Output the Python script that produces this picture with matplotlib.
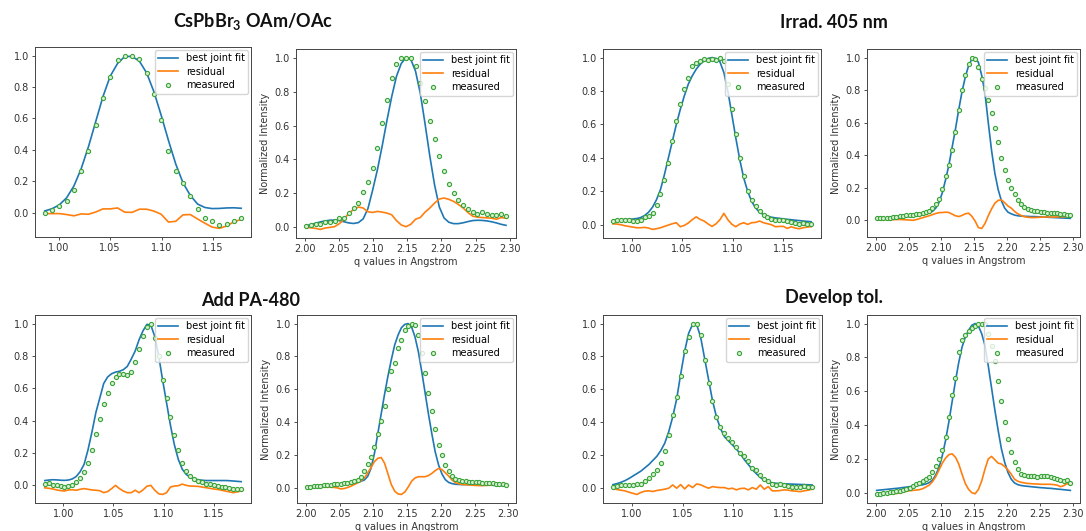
import numpy as np
import matplotlib
matplotlib.use("Agg")
import matplotlib.pyplot as plt

# ---------------------------------------------------------------------------
# Diffraction peak fits: (100)-type peak near 1.07 1/A and (200)-type near 2.15 1/A
# for four sample conditions.  Each panel: best joint fit, residual, measured.
# ---------------------------------------------------------------------------

sample_titles = ["CsPbBr$_\\mathregular{3}$ OAm/OAc", "Irrad. 405 nm", "Add PA-480", "Develop tol."]
legend_labels = ["best joint fit", "residual", "measured"]
x_label = "q values in Angstrom"
y_label = "Normalized Intensity"

# ---- CsPbBr3 OAm/OAc ------------------------------------------------------
q_oam_low = np.linspace(0.9865, 1.1775, 28)
fit_oam_low = [0.011, 0.025, 0.05, 0.095, 0.17, 0.28, 0.42, 0.58, 0.74, 0.87,
               0.95, 0.995, 0.995, 0.965, 0.89, 0.77, 0.62, 0.46, 0.31, 0.19,
               0.11, 0.055, 0.033, 0.026, 0.027, 0.03, 0.031, 0.028]
res_oam_low = [-0.006, -0.006, -0.006, -0.012, -0.02, -0.008, -0.01, 0.004, 0.024, 0.024,
               0.03, 0.003, 0.002, 0.022, 0.022, 0.01, -0.01, -0.06, -0.055, -0.014,
               -0.012, -0.04, -0.067, -0.092, -0.1, -0.085, -0.058, -0.043]
meas_oam_low = [-0.005, 0.015, 0.04, 0.075, 0.147, 0.266, 0.394, 0.556, 0.73, 0.866,
                0.972, 1.0, 1.0, 0.978, 0.89, 0.755, 0.59, 0.394, 0.264, 0.188,
                0.106, 0.024, -0.032, -0.056, -0.076, -0.071, -0.05, -0.032]

q_oam_high = np.linspace(2.0015, 2.2947, 43)
fit_oam_high = [0.01, 0.016, 0.024, 0.032, 0.038, 0.042, 0.043, 0.04, 0.033, 0.026,
                0.023, 0.028, 0.05, 0.11, 0.22, 0.34, 0.48, 0.63, 0.77, 0.89,
                0.965, 1.0, 0.99, 0.92, 0.79, 0.61, 0.42, 0.25, 0.12, 0.055,
                0.03, 0.022, 0.022, 0.027, 0.034, 0.04, 0.042, 0.041, 0.038, 0.033,
                0.026, 0.018, 0.012]
res_oam_high = [-0.002, -0.002, -0.006, -0.012, -0.004, 0.0, 0.004, 0.022, 0.046, 0.086,
                0.104, 0.12, 0.114, 0.092, 0.088, 0.094, 0.09, 0.084, 0.074, 0.04,
                0.014, 0.004, 0.018, 0.048, 0.058, 0.09, 0.114, 0.143, 0.167, 0.173,
                0.165, 0.153, 0.135, 0.114, 0.088, 0.066, 0.06, 0.058, 0.056, 0.054,
                0.048, 0.058, 0.054]
meas_oam_high = [0.008, 0.014, 0.02, 0.018, 0.032, 0.034, 0.038, 0.054, 0.058, 0.082,
                 0.114, 0.141, 0.207, 0.269, 0.349, 0.466, 0.616, 0.751, 0.878, 0.964,
                 0.997, 1.0, 0.996, 0.95, 0.85, 0.745, 0.625, 0.52, 0.422, 0.33,
                 0.253, 0.2, 0.159, 0.133, 0.11, 0.09, 0.08, 0.09, 0.078, 0.072,
                 0.074, 0.076, 0.068]

# ---- Irrad. 405 nm ----------------------------------------------------------
q_irr_low = np.linspace(0.9815, 1.1775, 51)
fit_irr_low = [0.025, 0.028, 0.03, 0.031, 0.032, 0.034, 0.037, 0.043, 0.055, 0.075,
               0.105, 0.15, 0.21, 0.30, 0.40, 0.50, 0.60, 0.69, 0.77, 0.84,
               0.89, 0.93, 0.96, 0.98, 0.995, 1.0, 0.995, 0.975, 0.91, 0.80,
               0.66, 0.52, 0.39, 0.28, 0.2, 0.14, 0.1, 0.075, 0.06, 0.05,
               0.045, 0.041, 0.038, 0.035, 0.032, 0.03, 0.027, 0.025, 0.022, 0.02,
               0.018]
res_irr_low = [0.005, 0.004, 0.0, -0.006, -0.01, -0.014, -0.018, -0.018, -0.016, -0.02,
               -0.028, -0.024, -0.018, -0.01, -0.002, 0.006, 0.012, -0.012, -0.004, 0.01,
               0.03, 0.047, 0.032, 0.022, 0.005, -0.01, 0.005, 0.03, 0.068, 0.03,
               0.003, -0.012, 0.004, 0.012, 0.002, 0.012, 0.014, 0.022, 0.012, 0.006,
               0.0, -0.012, -0.01, -0.01, -0.022, -0.012, -0.02, -0.024, -0.018, -0.014,
               -0.012]
meas_irr_low = [0.022, 0.028, 0.03, 0.027, 0.027, 0.022, 0.022, 0.027, 0.045, 0.055,
                0.07, 0.12, 0.185, 0.27, 0.37, 0.50, 0.62, 0.72, 0.81, 0.88,
                0.95, 0.965, 0.98, 0.99, 0.985, 0.99, 0.985, 1.0, 0.98, 0.84,
                0.69, 0.54, 0.40, 0.29, 0.2, 0.15, 0.11, 0.085, 0.06, 0.045,
                0.035, 0.03, 0.03, 0.026, 0.022, 0.015, 0.008, 0.004, 0.008, 0.006,
                0.004]

q_irr_high = np.linspace(2.0015, 2.2965, 60)
fit_irr_high = [0.01, 0.011, 0.012, 0.013, 0.014, 0.015, 0.016, 0.018, 0.019, 0.021,
                0.023, 0.025, 0.027, 0.03, 0.033, 0.037, 0.045, 0.055, 0.075, 0.11,
                0.17, 0.25, 0.34, 0.45, 0.56, 0.68, 0.79, 0.88, 0.95, 0.99,
                1.0, 0.97, 0.89, 0.78, 0.6, 0.43, 0.29, 0.19, 0.12, 0.075,
                0.05, 0.04, 0.032, 0.028, 0.026, 0.025, 0.024, 0.023, 0.023, 0.022,
                0.021, 0.02, 0.019, 0.018, 0.017, 0.016, 0.015, 0.014, 0.013, 0.012]
res_irr_high = [0.006, 0.005, 0.004, 0.004, 0.003, 0.004, 0.005, 0.005, 0.004, 0.003,
                0.002, 0.0, 0.004, 0.01, 0.016, 0.022, 0.028, 0.035, 0.042, 0.047,
                0.048, 0.05, 0.048, 0.038, 0.028, 0.023, 0.03, 0.04, 0.044, 0.025,
                -0.005, -0.045, -0.05, -0.02, 0.028, 0.07, 0.105, 0.122, 0.126, 0.108,
                0.088, 0.075, 0.055, 0.04, 0.03, 0.022, 0.019, 0.017, 0.017, 0.018,
                0.019, 0.02, 0.021, 0.02, 0.02, 0.021, 0.022, 0.022, 0.023, 0.023]
meas_irr_high = [0.012, 0.013, 0.014, 0.015, 0.017, 0.019, 0.022, 0.025, 0.027, 0.03,
                 0.032, 0.034, 0.037, 0.04, 0.045, 0.05, 0.058, 0.075, 0.1, 0.13,
                 0.19, 0.27, 0.34, 0.43, 0.54, 0.68, 0.8, 0.89, 0.96, 1.0,
                 0.99, 0.94, 0.87, 0.81, 0.74, 0.66, 0.57, 0.48, 0.38, 0.31,
                 0.25, 0.2, 0.16, 0.125, 0.1, 0.08, 0.068, 0.062, 0.058, 0.055,
                 0.052, 0.05, 0.048, 0.047, 0.045, 0.043, 0.04, 0.036, 0.033, 0.03]

# ---- Add PA-480 ---------------------------------------------------------------
q_pa_low = np.linspace(0.9815, 1.1775, 51)
fit_pa_low = [0.03, 0.033, 0.035, 0.034, 0.032, 0.031, 0.033, 0.04, 0.055, 0.085,
              0.13, 0.22, 0.33, 0.45, 0.54, 0.63, 0.67, 0.69, 0.70, 0.705,
              0.715, 0.735, 0.78, 0.83, 0.9, 0.955, 0.995, 0.99, 0.92, 0.8,
              0.65, 0.51, 0.37, 0.25, 0.16, 0.1, 0.068, 0.05, 0.04, 0.035,
              0.032, 0.03, 0.03, 0.03, 0.03, 0.03, 0.03, 0.029, 0.027, 0.025,
              0.023]
res_pa_low = [-0.015, -0.018, -0.022, -0.028, -0.032, -0.035, -0.028, -0.027, -0.03, -0.024,
              -0.02, -0.024, -0.028, -0.03, -0.033, -0.045, -0.038, -0.02, 0.0, -0.02,
              -0.035, -0.045, -0.045, -0.03, -0.045, -0.028, -0.005, 0.0, -0.03, -0.052,
              -0.056, -0.045, -0.01, -0.004, -0.002, 0.008, 0.0, -0.004, -0.005, -0.006,
              -0.01, -0.014, -0.018, -0.022, -0.025, -0.03, -0.035, -0.04, -0.045, -0.04,
              -0.035]
meas_pa_low = [0.01, 0.012, 0.005, 0.002, -0.004, -0.01, -0.003, 0.004, 0.02, 0.045,
               0.085, 0.14, 0.22, 0.32, 0.41, 0.5, 0.57, 0.63, 0.67, 0.69,
               0.69, 0.68, 0.70, 0.76, 0.84, 0.92, 0.98, 1.0, 0.91, 0.8,
               0.65, 0.54, 0.42, 0.31, 0.22, 0.14, 0.09, 0.058, 0.04, 0.027,
               0.018, 0.011, 0.007, 0.002, -0.003, -0.007, -0.012, -0.018, -0.023, -0.02,
               -0.025]

q_pa_high = np.linspace(2.0015, 2.2965, 60)
fit_pa_high = [0.005, 0.006, 0.008, 0.01, 0.011, 0.013, 0.015, 0.017, 0.019, 0.021,
               0.023, 0.025, 0.028, 0.03, 0.033, 0.036, 0.04, 0.048, 0.07, 0.12,
               0.21, 0.33, 0.45, 0.57, 0.68, 0.78, 0.87, 0.93, 0.975, 0.995,
               1.0, 0.98, 0.92, 0.83, 0.71, 0.58, 0.45, 0.33, 0.22, 0.14,
               0.085, 0.05, 0.033, 0.026, 0.022, 0.021, 0.02, 0.02, 0.02, 0.02,
               0.02, 0.019, 0.019, 0.018, 0.017, 0.016, 0.015, 0.014, 0.013, 0.012]
res_pa_high = [0.0, 0.001, 0.002, 0.003, 0.003, 0.004, 0.004, 0.004, 0.003, 0.0,
               -0.006, -0.004, 0.002, 0.01, 0.02, 0.03, 0.042, 0.06, 0.09, 0.125,
               0.16, 0.18, 0.185, 0.15, 0.085, 0.02, -0.02, -0.037, -0.04, -0.025,
               0.005, 0.04, 0.06, 0.068, 0.068, 0.068, 0.075, 0.088, 0.105, 0.118,
               0.112, 0.092, 0.072, 0.048, 0.032, 0.025, 0.021, 0.02, 0.018, 0.016,
               0.015, 0.014, 0.014, 0.015, 0.016, 0.018, 0.02, 0.022, 0.024, 0.025]
meas_pa_high = [0.006, 0.007, 0.009, 0.011, 0.013, 0.015, 0.018, 0.02, 0.022, 0.024,
                0.026, 0.028, 0.031, 0.034, 0.04, 0.047, 0.065, 0.1, 0.145, 0.19,
                0.25, 0.33, 0.41, 0.5, 0.6, 0.71, 0.76, 0.85, 0.9, 0.96,
                0.985, 0.998, 0.99, 0.93, 0.82, 0.7, 0.58, 0.47, 0.36, 0.26,
                0.2, 0.14, 0.1, 0.075, 0.055, 0.046, 0.042, 0.04, 0.038, 0.037,
                0.035, 0.034, 0.032, 0.03, 0.029, 0.028, 0.026, 0.024, 0.022, 0.02]

# ---- Develop tol. ---------------------------------------------------------------
q_tol_low = np.linspace(0.9815, 1.1775, 51)
fit_tol_low = [0.018, 0.024, 0.032, 0.042, 0.055, 0.07, 0.085, 0.1, 0.12, 0.14,
               0.165, 0.19, 0.225, 0.27, 0.34, 0.43, 0.54, 0.69, 0.83, 0.94,
               0.995, 0.995, 0.92, 0.79, 0.66, 0.53, 0.43, 0.36, 0.31, 0.285,
               0.26, 0.235, 0.205, 0.17, 0.14, 0.11, 0.085, 0.062, 0.045, 0.035,
               0.029, 0.026, 0.024, 0.023, 0.022, 0.021, 0.02, 0.019, 0.018, 0.017,
               0.016]
res_tol_low = [-0.004, -0.012, -0.016, -0.02, -0.028, -0.035, -0.042, -0.03, -0.022, -0.02,
               -0.024, -0.018, -0.014, -0.01, -0.004, 0.016, -0.004, 0.018, -0.008, 0.016,
               0.0, 0.022, 0.017, 0.006, -0.004, 0.006, 0.002, 0.0, 0.0, -0.008,
               -0.004, -0.014, -0.006, -0.004, -0.014, 0.0, -0.01, 0.016, -0.01, 0.006,
               -0.02, -0.02, -0.018, -0.014, -0.016, -0.02, -0.022, -0.025, -0.02, -0.016,
               -0.01]
meas_tol_low = [0.006, 0.01, 0.013, 0.017, 0.017, 0.018, 0.02, 0.023, 0.043, 0.06,
                0.08, 0.11, 0.15, 0.22, 0.32, 0.44, 0.55, 0.68, 0.83, 0.92,
                1.0, 1.0, 0.93, 0.78, 0.64, 0.53, 0.43, 0.37, 0.33, 0.3,
                0.28, 0.25, 0.21, 0.19, 0.16, 0.12, 0.11, 0.075, 0.05, 0.037,
                0.02, 0.017, 0.02, 0.016, 0.012, 0.006, 0.003, 0.004, 0.01, 0.006,
                0.005]

q_tol_high = np.linspace(2.0015, 2.2965, 60)
fit_tol_high = [0.014, 0.016, 0.018, 0.02, 0.022, 0.024, 0.026, 0.028, 0.031, 0.033,
                0.036, 0.038, 0.041, 0.044, 0.047, 0.052, 0.06, 0.075, 0.105, 0.15,
                0.22, 0.31, 0.42, 0.54, 0.66, 0.77, 0.86, 0.92, 0.96, 0.99,
                1.0, 0.985, 0.94, 0.87, 0.75, 0.62, 0.49, 0.37, 0.26, 0.18,
                0.12, 0.08, 0.058, 0.048, 0.043, 0.04, 0.038, 0.036, 0.034, 0.032,
                0.03, 0.029, 0.027, 0.026, 0.024, 0.022, 0.02, 0.018, 0.016, 0.014]
res_tol_high = [-0.006, -0.008, -0.01, -0.008, -0.006, -0.004, -0.004, -0.002, 0.004, 0.008,
                0.012, 0.014, 0.016, 0.018, 0.024, 0.034, 0.045, 0.065, 0.095, 0.135,
                0.175, 0.205, 0.225, 0.23, 0.21, 0.17, 0.11, 0.055, 0.02, 0.0,
                -0.006, 0.02, 0.07, 0.14, 0.2, 0.215, 0.195, 0.175, 0.17, 0.155,
                0.135, 0.11, 0.08, 0.068, 0.062, 0.058, 0.055, 0.054, 0.052, 0.052,
                0.05, 0.05, 0.05, 0.05, 0.048, 0.045, 0.036, 0.042, 0.054, 0.046]
meas_tol_high = [-0.006, -0.006, -0.004, 0.0, 0.004, 0.006, 0.008, 0.01, 0.016, 0.024,
                 0.03, 0.038, 0.05, 0.06, 0.07, 0.082, 0.095, 0.12, 0.16, 0.2,
                 0.25, 0.33, 0.45, 0.58, 0.68, 0.83, 0.9, 0.93, 0.955, 0.975,
                 0.988, 0.996, 1.0, 0.995, 0.94, 0.87, 0.78, 0.66, 0.54, 0.42,
                 0.32, 0.24, 0.18, 0.14, 0.11, 0.104, 0.1, 0.098, 0.097, 0.096,
                 0.097, 0.098, 0.097, 0.094, 0.088, 0.08, 0.075, 0.07, 0.074, 0.06]

# ---------------------------------------------------------------------------
FIG_W, FIG_H = 1086, 531
fig = plt.figure(figsize=(FIG_W / 100, FIG_H / 100), dpi=100)
fig.patch.set_facecolor("white")


def add_axes_px(x0, y0, x1, y1):
    """Add axes given pixel box (left, top, right, bottom)."""
    return fig.add_axes([x0 / FIG_W, 1 - y1 / FIG_H, (x1 - x0) / FIG_W, (y1 - y0) / FIG_H])


def draw_panel(ax, q, fit, res, meas, labelled):
    ax.plot(q, fit, color="#1f77b4", lw=1.2, label=legend_labels[0])
    ax.plot(q, res, color="#ff7f0e", lw=1.2, label=legend_labels[1])
    ax.plot(q, meas, linestyle="none", marker="o", ms=3.0, mfc="#d6eed1",
            mec="#3aa33a", mew=0.8, label=legend_labels[2])
    ax.legend(loc="upper right", fontsize=7, frameon=True, borderpad=0.35,
              labelspacing=0.35, handlelength=2.0, handletextpad=0.8,
              borderaxespad=0.3, framealpha=0.8, edgecolor="#cccccc")
    ax.tick_params(labelsize=7, length=2.5, width=0.6, colors="#333333", pad=2)
    for s in ax.spines.values():
        s.set_linewidth(0.7)
        s.set_color("#444444")
    if labelled:
        ax.set_xlabel(x_label, fontsize=7, color="#333333", labelpad=2)
        ax.set_ylabel(y_label, fontsize=7, color="#333333", labelpad=3)


panels = [
    ((35, 47, 251, 237), q_oam_low, fit_oam_low, res_oam_low, meas_oam_low, False),
    ((296, 49, 516, 238), q_oam_high, fit_oam_high, res_oam_high, meas_oam_high, True),
    ((603, 49, 821, 238), q_irr_low, fit_irr_low, res_irr_low, meas_irr_low, False),
    ((867, 49, 1080, 237), q_irr_high, fit_irr_high, res_irr_high, meas_irr_high, True),
    ((35, 315, 251, 503), q_pa_low, fit_pa_low, res_pa_low, meas_pa_low, False),
    ((297, 315, 516, 503), q_pa_high, fit_pa_high, res_pa_high, meas_pa_high, True),
    ((603, 315, 822, 503), q_tol_low, fit_tol_low, res_tol_low, meas_tol_low, False),
    ((867, 315, 1080, 503), q_tol_high, fit_tol_high, res_tol_high, meas_tol_high, True),
]

for box, q, fit, res, meas, labelled in panels:
    ax = add_axes_px(*box)
    draw_panel(ax, q, fit, res, meas, labelled)

# Sample-condition headings above each pair of panels
title_pos = [(253, 22), (834, 22), (251, 300), (834, 298)]
for text, (px, py) in zip(sample_titles, title_pos):
    fig.text(px / FIG_W, 1 - py / FIG_H, text, ha="center", va="center",
             fontsize=13, fontweight="bold", family="Lato", color="#111111")

fig.savefig("out.png", dpi=100, facecolor="white")
